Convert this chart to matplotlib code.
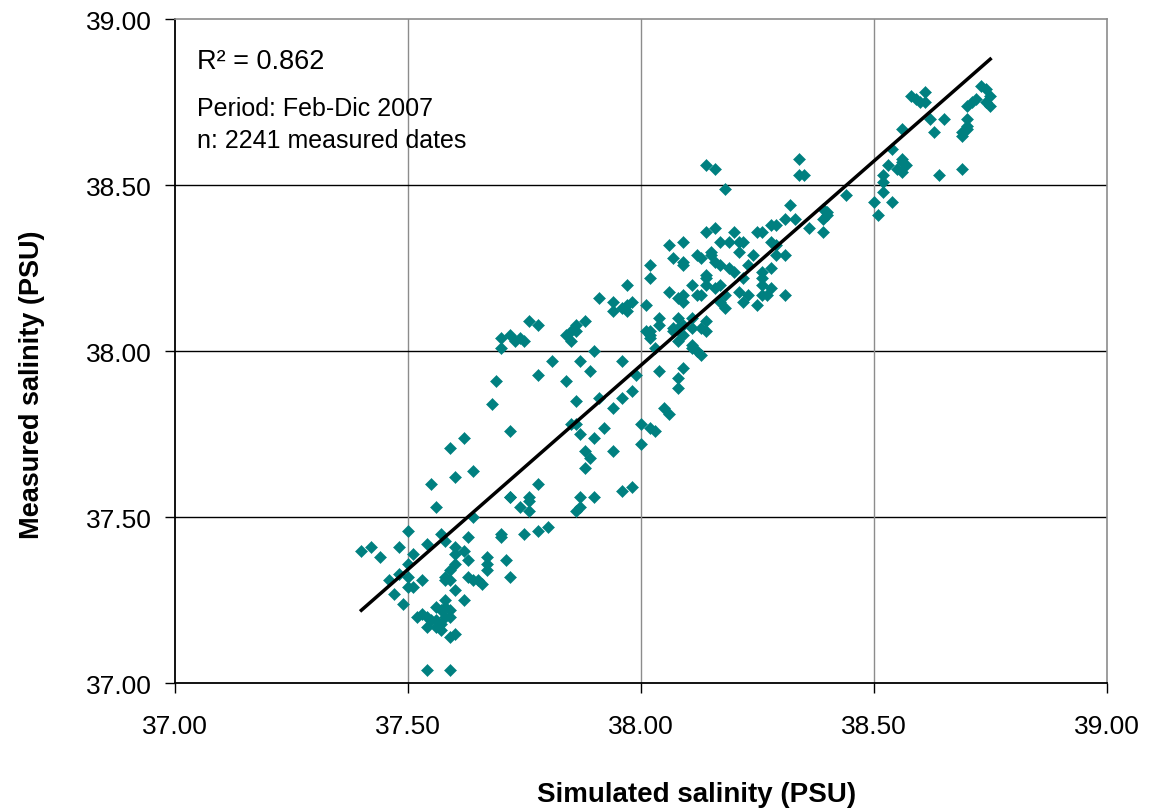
import matplotlib
matplotlib.use("Agg")
import matplotlib.pyplot as plt

plt.rcParams['font.family'] = ['Liberation Sans', 'DejaVu Sans']

simulated = [
    37.56, 37.50, 37.40, 37.42, 37.44, 37.48, 37.51, 37.54, 37.57, 37.58,
    37.63, 37.60, 37.60, 37.62, 37.63, 37.64, 37.70, 37.70, 37.75, 37.78,
    37.80, 37.74, 37.76, 37.76, 37.72, 37.71, 37.72, 37.67, 37.67, 37.67,
    37.63, 37.64, 37.65, 37.66, 37.50, 37.48, 37.46, 37.50, 37.53, 37.50,
    37.51, 37.47, 37.49, 37.60, 37.59, 37.58, 37.58, 37.59, 37.60, 37.62,
    37.58, 37.56, 37.57, 37.58, 37.59, 37.53, 37.52, 37.54, 37.55, 37.56,
    37.57, 37.58, 37.59, 37.54, 37.56, 37.57, 37.60, 37.59, 37.54, 37.59,
    37.76, 37.78, 37.70, 37.72, 37.73, 37.74, 37.75, 37.70, 37.81, 37.78,
    37.69, 37.68, 37.72, 37.62, 37.59, 37.64, 37.60, 37.55, 37.78, 37.72,
    37.76, 37.85, 37.86, 37.85, 37.90, 37.87, 37.96, 37.89, 37.84, 37.99,
    37.86, 37.91, 37.96, 37.98, 37.94, 37.85, 37.86, 37.92, 37.87, 37.90,
    37.88, 37.89, 37.94, 37.88, 38.00, 38.00, 38.02, 38.03, 38.05, 38.06,
    38.04, 38.09, 38.08, 38.08, 38.03, 38.02, 38.01, 38.02, 38.07, 38.08,
    38.09, 38.11, 38.13, 38.11, 38.11, 38.12, 38.13, 37.96, 37.98, 37.87,
    37.90, 37.87, 37.86, 38.14, 38.16, 38.18, 38.06, 38.09, 38.12, 38.13,
    38.07, 38.09, 38.09, 38.15, 38.17, 38.02, 38.02, 38.20, 38.14, 38.14,
    38.11, 38.06, 37.97, 37.91, 37.94, 37.96, 37.97, 37.98, 37.97, 38.01,
    38.08, 38.09, 38.12, 38.09, 38.04, 38.04, 38.08, 38.08, 38.02, 38.13,
    38.16, 38.18, 38.17, 38.18, 37.88, 37.86, 37.84, 38.07, 38.09, 38.11,
    38.14, 38.14, 38.14, 38.16, 38.17, 38.15, 38.16, 38.20, 38.21, 38.19,
    38.22, 38.21, 38.25, 38.28, 38.28, 38.24, 38.23, 38.19, 38.22, 38.26,
    38.28, 38.14, 38.17, 38.21, 38.23, 38.25, 38.26, 38.28, 38.27, 38.31,
    38.31, 38.22, 38.58, 38.59, 38.60, 38.61, 38.61, 38.62, 38.65, 38.63,
    38.56, 38.73, 38.72, 38.71, 38.75, 38.74, 38.74, 38.75, 38.70, 38.70,
    38.70, 38.69, 38.70, 38.69, 38.69, 38.64, 38.54, 38.56, 38.56, 38.57,
    38.55, 38.53, 38.56, 38.52, 38.52, 38.52, 38.54, 38.50, 38.51, 38.34,
    38.34, 38.35, 38.44, 38.32, 38.31, 38.33, 38.39, 38.40, 38.39, 38.40,
    38.36, 38.39, 38.29, 38.26, 38.29, 38.29, 38.26, 38.26, 37.94,
]

measured = [
    37.53, 37.46, 37.40, 37.41, 37.38, 37.41, 37.39, 37.42, 37.45, 37.43,
    37.44, 37.41, 37.39, 37.40, 37.37, 37.50, 37.45, 37.44, 37.45, 37.46,
    37.47, 37.53, 37.52, 37.55, 37.56, 37.37, 37.32, 37.38, 37.36, 37.34,
    37.32, 37.31, 37.31, 37.30, 37.36, 37.33, 37.31, 37.32, 37.31, 37.29,
    37.29, 37.27, 37.24, 37.36, 37.34, 37.32, 37.31, 37.31, 37.28, 37.25,
    37.25, 37.23, 37.22, 37.23, 37.22, 37.21, 37.20, 37.20, 37.19, 37.19,
    37.18, 37.20, 37.20, 37.17, 37.17, 37.16, 37.15, 37.14, 37.04, 37.04,
    38.09, 38.08, 38.04, 38.05, 38.03, 38.04, 38.03, 38.01, 37.97, 37.93,
    37.91, 37.84, 37.76, 37.74, 37.71, 37.64, 37.62, 37.60, 37.60, 37.56,
    37.56, 38.06, 38.06, 38.03, 38.00, 37.97, 37.97, 37.94, 37.91, 37.93,
    37.85, 37.86, 37.86, 37.88, 37.83, 37.78, 37.78, 37.77, 37.75, 37.74,
    37.70, 37.68, 37.70, 37.65, 37.72, 37.78, 37.77, 37.76, 37.83, 37.81,
    37.94, 37.95, 37.92, 37.89, 38.01, 38.04, 38.06, 38.05, 38.06, 38.03,
    38.05, 38.07, 38.07, 38.02, 38.01, 38.00, 37.99, 37.58, 37.59, 37.56,
    37.56, 37.53, 37.52, 38.56, 38.55, 38.49, 38.32, 38.33, 38.29, 38.28,
    38.28, 38.27, 38.26, 38.29, 38.26, 38.26, 38.22, 38.24, 38.23, 38.22,
    38.20, 38.18, 38.20, 38.16, 38.15, 38.13, 38.14, 38.15, 38.12, 38.14,
    38.16, 38.17, 38.17, 38.15, 38.10, 38.08, 38.10, 38.07, 38.06, 38.17,
    38.19, 38.17, 38.15, 38.13, 38.09, 38.08, 38.05, 38.07, 38.08, 38.10,
    38.06, 38.09, 38.36, 38.37, 38.33, 38.30, 38.27, 38.36, 38.33, 38.33,
    38.33, 38.30, 38.36, 38.38, 38.33, 38.29, 38.26, 38.25, 38.22, 38.22,
    38.25, 38.20, 38.20, 38.18, 38.17, 38.14, 38.20, 38.19, 38.17, 38.17,
    38.29, 38.15, 38.77, 38.76, 38.75, 38.78, 38.75, 38.70, 38.70, 38.66,
    38.67, 38.80, 38.76, 38.75, 38.77, 38.79, 38.75, 38.74, 38.74, 38.70,
    38.68, 38.66, 38.67, 38.65, 38.55, 38.53, 38.61, 38.58, 38.57, 38.56,
    38.55, 38.56, 38.54, 38.53, 38.51, 38.48, 38.45, 38.45, 38.41, 38.58,
    38.53, 38.53, 38.47, 38.44, 38.40, 38.40, 38.43, 38.42, 38.40, 38.41,
    38.37, 38.36, 38.38, 38.36, 38.32, 38.29, 38.24, 38.17, 38.12,
]

fit_simulated = [37.40, 38.75]
fit_measured = [37.22, 38.88]

tick_values = [37.00, 37.50, 38.00, 38.50, 39.00]
tick_labels = ["37.00", "37.50", "38.00", "38.50", "39.00"]

r2_text = "R\u00b2 = 0.862"
period_text = "Period: Feb-Dic 2007"
n_text = "n: 2241 measured dates"
xlabel = "Simulated salinity (PSU)"
ylabel = "Measured salinity (PSU)"

W, H = 1160, 812
fig = plt.figure(figsize=(W / 100, H / 100), dpi=100)
ax = fig.add_axes([175 / W, 1 - 684.3 / H, (1106.7 - 175) / W, (684.3 - 20.3) / H])

teal = "#008080"
ax.plot(simulated, measured, linestyle="none", marker="D", markersize=6.6,
        color=teal, markeredgecolor=teal, markeredgewidth=0.4, zorder=3)
ax.plot(fit_simulated, fit_measured, color="black", linewidth=2.5, zorder=4)

ax.set_xlim(37, 39)
ax.set_ylim(37, 39)
ax.set_xticks(tick_values)
ax.set_xticklabels(tick_labels)
ax.set_yticks(tick_values)
ax.set_yticklabels(tick_labels)

# gridlines: horizontal black, vertical gray
for v in tick_values[1:-1]:
    ax.axhline(v, color="black", linewidth=1.0, zorder=1)
    ax.axvline(v, color="#8c8c8c", linewidth=1.0, zorder=1)

for side in ("top", "right"):
    ax.spines[side].set_color("#8c8c8c")
    ax.spines[side].set_linewidth(1.2)
for side in ("left", "bottom"):
    ax.spines[side].set_color("black")
    ax.spines[side].set_linewidth(1.3)

ax.tick_params(axis="both", direction="out", length=7, width=1.0,
               labelsize=19, colors="black")
ax.tick_params(axis="y", pad=10)
ax.tick_params(axis="x", pad=15)

ax.text(0.0236, 0.937, r2_text, transform=ax.transAxes, fontsize=19.5,
        va="center", ha="left")
ax.text(0.0236, 0.866, period_text, transform=ax.transAxes, fontsize=18,
        va="center", ha="left")
ax.text(0.0236, 0.818, n_text, transform=ax.transAxes, fontsize=18,
        va="center", ha="left")

fig.text(697 / W, 1 - 795 / H, xlabel, fontsize=20, fontweight="bold",
         ha="center", va="center")
fig.text(32 / W, 1 - 385 / H, ylabel, fontsize=19.5, fontweight="bold",
         ha="center", va="center", rotation=90)

fig.savefig("out.png", dpi=100)
